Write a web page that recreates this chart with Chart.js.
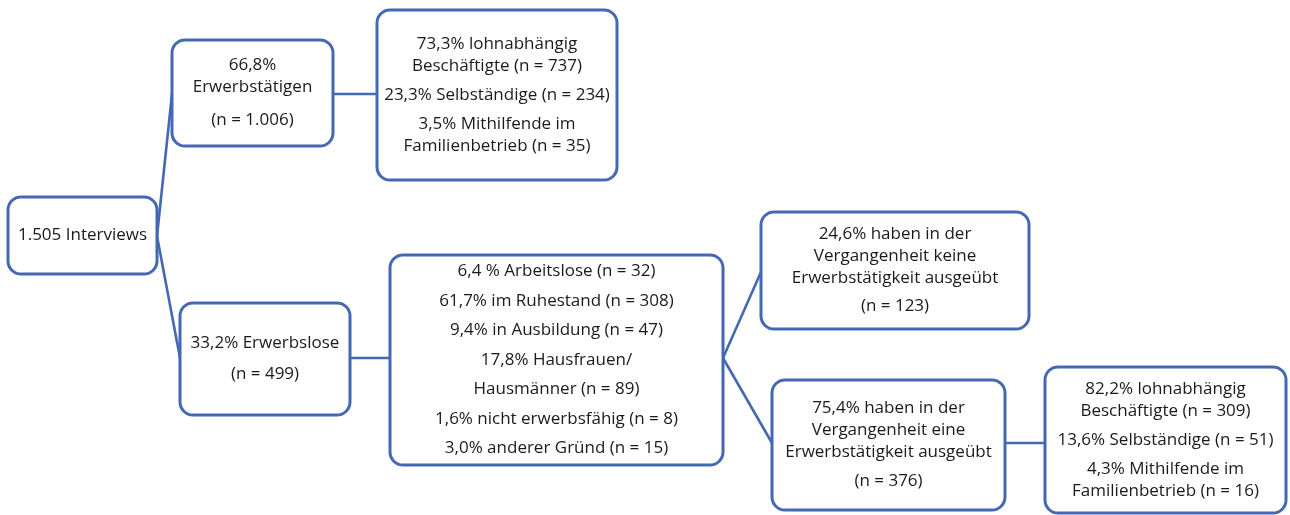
<!DOCTYPE html>
<html>
<head>
<meta charset="utf-8">
<script src="https://cdn.jsdelivr.net/npm/chart.js@4/dist/chart.umd.min.js"></script>
<style>
html,body{margin:0;padding:0;background:#fff;}
#wrap{width:1290px;height:515px;}
</style>
</head>
<body>
<div id="wrap"><canvas id="c" width="1290" height="515"></canvas></div>
<script>
// ---- Data: node texts (paragraphs of lines) ----
const nodeTexts = [
  [["1.505 Interviews"]],
  [["66,8%", "Erwerbstätigen"], ["(n = 1.006)"]],
  [["73,3% lohnabhängig", "Beschäftigte (n = 737)"], ["23,3% Selbständige (n = 234)"], ["3,5% Mithilfende im", "Familienbetrieb (n = 35)"]],
  [["33,2% Erwerbslose"], ["(n = 499)"]],
  [["6,4 % Arbeitslose (n = 32)"], ["61,7% im Ruhestand (n = 308)"], ["9,4% in Ausbildung (n = 47)"], ["17,8% Hausfrauen/"], ["Hausmänner (n = 89)"], ["1,6% nicht erwerbsfähig (n = 8)"], ["3,0% anderer Gründ (n = 15)"]],
  [["24,6% haben in der", "Vergangenheit keine", "Erwerbstätigkeit ausgeübt"], ["(n = 123)"]],
  [["75,4% haben in der", "Vergangenheit eine", "Erwerbstätigkeit ausgeübt"], ["(n = 376)"]],
  [["82,2% lohnabhängig", "Beschäftigte (n = 309)"], ["13,6% Selbständige (n = 51)"], ["4,3% Mithilfende im", "Familienbetrieb (n = 16)"]]
];
// tree edges: [parent, child]
const edges = [[0,1],[0,3],[1,2],[3,4],[4,5],[4,6],[6,7]];

// ---- Layout (in axis units): left, top, right, bottom ----
const boxLeft   = [8,   172, 377, 180, 390, 761, 772, 1045];
const boxTop    = [197, 40,  10,  303, 255, 212, 380, 367];
const boxRight  = [157, 333, 617, 350, 723, 1029, 1005, 1286];
const boxBottom = [274, 146, 180, 415, 465, 329, 510, 513];
const paraGap   = [0,   11,  7,   9,   7.5, 6,   7,   7];
const anchorY   = [236, 94,  94,  358, 358, 272, 443, 443];

const LINE_H = 22;
const BLUE = '#4568b2';

const edgeDatasets = edges.map(([a,b]) => ({
  type: 'scatter',
  showLine: true,
  data: [{x: boxRight[a], y: anchorY[a]}, {x: boxLeft[b], y: anchorY[b]}],
  borderColor: BLUE,
  borderWidth: 2.6,
  pointRadius: 0,
  fill: false
}));

const boxPlugin = {
  id: 'boxes',
  afterDatasetsDraw(chart) {
    const ctx = chart.ctx;
    const xs = chart.scales.x, ys = chart.scales.y;
    ctx.save();
    for (let i = 0; i < nodeTexts.length; i++) {
      const l = xs.getPixelForValue(boxLeft[i]);
      const r = xs.getPixelForValue(boxRight[i]);
      const t = ys.getPixelForValue(boxTop[i]);
      const b = ys.getPixelForValue(boxBottom[i]);
      ctx.beginPath();
      ctx.roundRect(l, t, r - l, b - t, 13);
      ctx.fillStyle = '#fff';
      ctx.fill();
      ctx.lineWidth = 3;
      ctx.strokeStyle = BLUE;
      ctx.stroke();
      // text
      const paras = nodeTexts[i];
      let nLines = 0;
      paras.forEach(p => nLines += p.length);
      const totalH = nLines * LINE_H + (paras.length - 1) * paraGap[i];
      let y = (t + b) / 2 - totalH / 2 + LINE_H / 2;
      const cx = (l + r) / 2;
      ctx.fillStyle = '#1a1a1a';
      ctx.font = '17px "Open Sans", "Noto Sans", sans-serif';
      ctx.textAlign = 'center';
      ctx.textBaseline = 'middle';
      paras.forEach((p, pi) => {
        p.forEach(line => {
          ctx.fillText(line, cx, y);
          y += LINE_H;
        });
        y += paraGap[i];
      });
    }
    ctx.restore();
  }
};

new Chart(document.getElementById('c'), {
  type: 'scatter',
  data: { datasets: edgeDatasets },
  options: {
    responsive: false,
    animation: false,
    events: [],
    layout: { padding: 0 },
    plugins: { legend: { display: false }, tooltip: { enabled: false } },
    scales: {
      x: { type: 'linear', min: 0, max: 1290, display: false },
      y: { type: 'linear', min: 0, max: 515, reverse: true, display: false }
    }
  },
  plugins: [boxPlugin]
});
</script>
</body>
</html>
